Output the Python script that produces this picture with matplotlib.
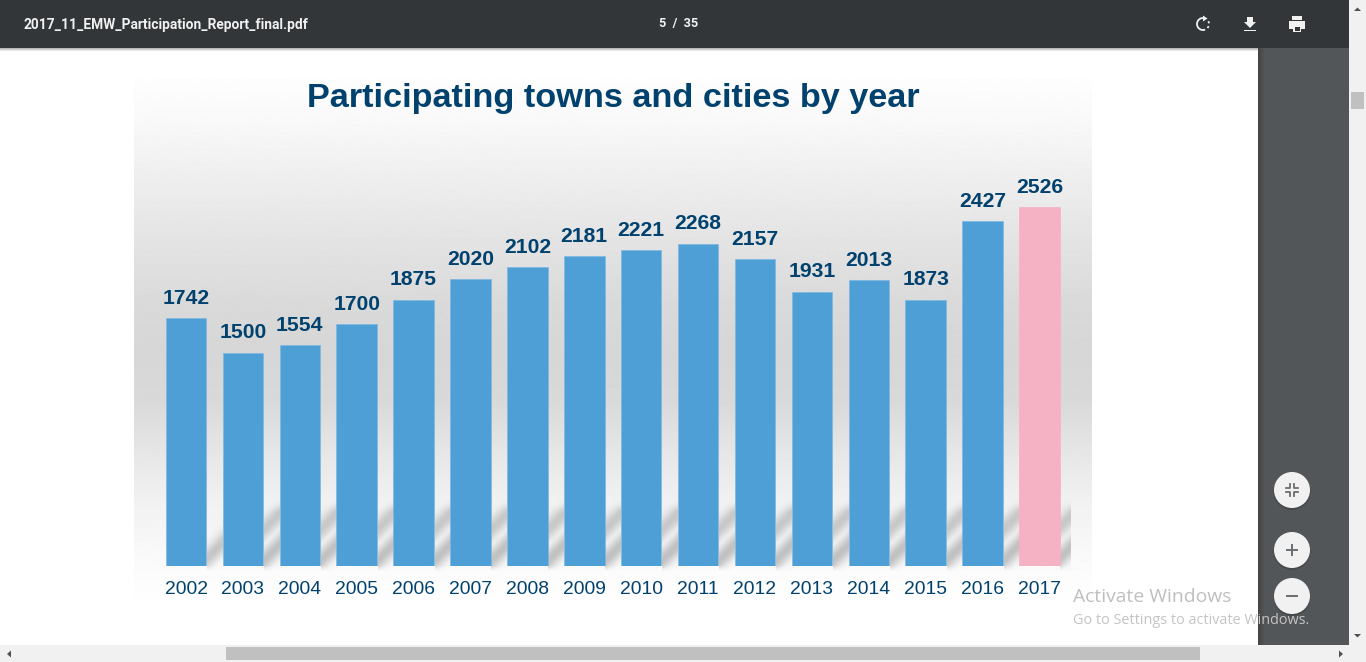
import matplotlib
matplotlib.use('Agg')
import matplotlib.pyplot as plt
import matplotlib.patches as mpatches
import numpy as np

years = ['2002', '2003', '2004', '2005', '2006', '2007', '2008', '2009',
         '2010', '2011', '2012', '2013', '2014', '2015', '2016', '2017']
towns = [1742, 1500, 1554, 1700, 1875, 2020, 2102, 2181,
         2221, 2268, 2157, 1931, 2013, 1873, 2427, 2526]

W, H = 1366, 662
BLUE = '#4d9fd6'
PINK = '#f5b2c5'
NAVY = '#00416e'
TOOLBAR = '#323639'
PANEL = '#525659'
SCROLL = '#f1f1f1'
THUMB = '#c0c0c0'

fig = plt.figure(figsize=(W / 100, H / 100), dpi=100, facecolor='white')

# page and viewer chrome, in pixel coordinates
bg = fig.add_axes([0, 0, 1, 1], zorder=0)
bg.set_xlim(0, W)
bg.set_ylim(H, 0)
bg.axis('off')


def rect(x0, y0, x1, y1, color, **kw):
    bg.add_patch(mpatches.Rectangle((x0, y0), x1 - x0, y1 - y0, color=color, lw=0, **kw))


# slide background gradient
stops_y = [78, 130, 170, 220, 270, 300, 350, 400, 450, 500, 560, 610]
stops_v = [0.995, 0.97, 0.94, 0.905, 0.875, 0.855, 0.84, 0.85, 0.90, 0.945, 0.98, 1.0]
rows = np.arange(78, 611)
grad = np.interp(rows, stops_y, stops_v)[:, None]
bg.imshow(grad, cmap='gray', vmin=0, vmax=1, extent=[134, 1092, 610, 78],
          aspect='auto', zorder=1)

# diagonal floor shadows between the bars
step = 56.9
first = 186
half = 20.5
yy, xx = np.mgrid[490:571, 206:1071]
dark = np.zeros(xx.shape)
for i in range(len(years)):
    cx = first + step * i
    left = cx + half
    right = min(cx + step - half, 1070)
    mask = (xx >= left) & (xx <= right)
    gx = (left + right) / 2
    bands = [(552, 1.0)] if i > 0 else [(550, 0.9)]
    if i > 0:
        bands.append((521, 0.85))
    for yc, amp in bands:
        d = (yy - yc) + (xx - gx) * 1.0
        dark[mask] = np.maximum(dark[mask], amp * np.exp(-(d[mask] / 12.0) ** 2))
fade = np.clip((yy - 498) / 12.0, 0, 1) * np.clip((571 - yy) / 6.0, 0, 1)
shadow = np.zeros(xx.shape + (4,))
shadow[..., :3] = 0.72
shadow[..., 3] = dark * fade * 0.85
bg.imshow(shadow, extent=[206, 1071, 571, 490], aspect='auto', zorder=2)
bg.set_xlim(0, W)
bg.set_ylim(H, 0)

# right panel
rect(1258, 48, 1349, 645, PANEL, zorder=3)
side = np.linspace(0.27, 0.322, 6)[None, :]
bg.imshow(side, cmap='gray', vmin=0, vmax=1, extent=[1258, 1264, 645, 48],
          aspect='auto', zorder=3.5)

# toolbar
rect(0, 0, W - 17, 48, TOOLBAR, zorder=5)
tb_shadow = np.linspace(0.72, 1, 4)[:, None]
bg.imshow(tb_shadow, cmap='gray', vmin=0, vmax=1, extent=[0, 1258, 52, 48],
          aspect='auto', zorder=4)
bg.set_xlim(0, W)
bg.set_ylim(H, 0)
bg.text(24, 24.5, '2017_11_EMW_Participation_Report_final.pdf', color='#f1f1f1',
        family='Roboto', fontweight='bold', fontsize=9.9, va='center', zorder=6)
bg.text(678.5, 24, '5  /  35', color='#f1f1f1', family='Roboto', fontweight='bold',
        fontsize=9.2, ha='center', va='center', zorder=6)

# toolbar icons
ang = np.radians(np.linspace(90, 270, 25))
bg.plot(1203 + 6 * np.cos(ang), 24 + 6 * np.sin(ang), color='#f1f1f1', lw=1.3, zorder=6)
ang = np.radians(np.linspace(90, -55, 20))
bg.plot(1203 + 6 * np.cos(ang), 24 + 6 * np.sin(ang), color='#f1f1f1', lw=1.3,
        linestyle=(0, (1.2, 1.6)), zorder=6)
bg.add_patch(mpatches.Polygon([[1203, 15.5], [1207.5, 18.5], [1203, 21.5]], color='#f1f1f1', lw=0, zorder=6))
bg.add_patch(mpatches.Polygon([[1247, 17], [1253, 17], [1253, 22], [1256, 22], [1250, 28], [1244, 22], [1247, 22]],
                              color='#f1f1f1', lw=0, zorder=6))
rect(1244, 29.5, 1256, 31, '#f1f1f1', zorder=6)
rect(1292, 16, 1302, 20, '#f1f1f1', zorder=6)
rect(1289, 21, 1305, 29, '#f1f1f1', zorder=6)
rect(1293, 26, 1301, 32, '#f1f1f1', zorder=6)
rect(1294.5, 27, 1299.5, 30.5, TOOLBAR, zorder=6.5)

# scrollbars
rect(1349, 0, W, H, SCROLL, zorder=5)
rect(0, 645, W, H, SCROLL, zorder=5)
rect(1351, 92, 1364, 109, THUMB, zorder=6)
rect(226, 647, 1200, 660, THUMB, zorder=6)
arrow = '#505050'
bg.add_patch(mpatches.Polygon([[1354, 11], [1361, 11], [1357.5, 7.5]], color=arrow, lw=0, zorder=6))
bg.add_patch(mpatches.Polygon([[1354, 634], [1361, 634], [1357.5, 637.5]], color=arrow, lw=0, zorder=6))
bg.add_patch(mpatches.Polygon([[11, 650.5], [11, 657.5], [7, 654]], color=arrow, lw=0, zorder=6))
bg.add_patch(mpatches.Polygon([[1339, 650.5], [1339, 657.5], [1343, 654]], color=arrow, lw=0, zorder=6))

# round zoom buttons
for cy in [490, 550, 596]:
    bg.add_patch(mpatches.Circle((1292, cy + 1.5), 18.5, color='#3a3d3f', alpha=0.5, lw=0, zorder=6))
    bg.add_patch(mpatches.Circle((1292, cy), 18, color='#f1f1f1', lw=0, zorder=6.2))
icon = '#6b6e70'
bg.plot([1287, 1297], [550, 550], color=icon, lw=1.4, zorder=7)
bg.plot([1292, 1292], [545, 555], color=icon, lw=1.4, zorder=7)
bg.plot([1287, 1297], [596, 596], color=icon, lw=1.4, zorder=7)
for sx in (-1, 1):
    for sy in (-1, 1):
        bg.plot([1292 + sx * 6, 1292 + sx * 2, 1292 + sx * 2],
                [490 + sy * 2, 490 + sy * 2, 490 + sy * 6], color=icon, lw=1.3, zorder=7)

# windows watermark
bg.text(1073, 597.5, 'Activate Windows', family='Open Sans', fontsize=13.9, color='#bfbfbf',
        va='center', zorder=8)
bg.text(1073, 620, 'Go to Settings to activate Windows.', family='Open Sans', fontsize=10.4,
        color='#c4c4c4', va='center', zorder=8)

# title
bg.text(613, 98, 'Participating towns and cities by year', family='Liberation Sans',
        fontweight='bold', fontsize=24.7, color=NAVY, ha='center', va='center', zorder=8)

# the bar chart: axes span x 134..1092, y 48..566 in pixels
ax = fig.add_axes([134 / W, 1 - 566 / H, (1092 - 134) / W, (566 - 48) / H], zorder=1)
ax.patch.set_alpha(0)
x = np.arange(len(years))
colors = [BLUE] * (len(years) - 1) + [PINK]
edges = ['#7db8e2'] * (len(years) - 1) + [PINK]
bars = ax.bar(x, towns, width=40.5 / step, color=colors, edgecolor=edges, linewidth=0.5)
ax.set_xlim((134 - first) / step, (1092 - first) / step)
ax.set_ylim(0, 518 / 0.1421)
ax.bar_label(bars, labels=[str(v) for v in towns], padding=7.5, color=NAVY,
             family='Liberation Sans', fontweight='bold', fontsize=15.2)
ax.set_xticks(x)
ax.set_xticklabels(years, family='Liberation Sans', fontsize=13.9, color=NAVY)
ax.tick_params(axis='x', length=0, pad=11)
ax.set_yticks([])
for s in ax.spines.values():
    s.set_visible(False)

fig.savefig('out.png', dpi=100)
